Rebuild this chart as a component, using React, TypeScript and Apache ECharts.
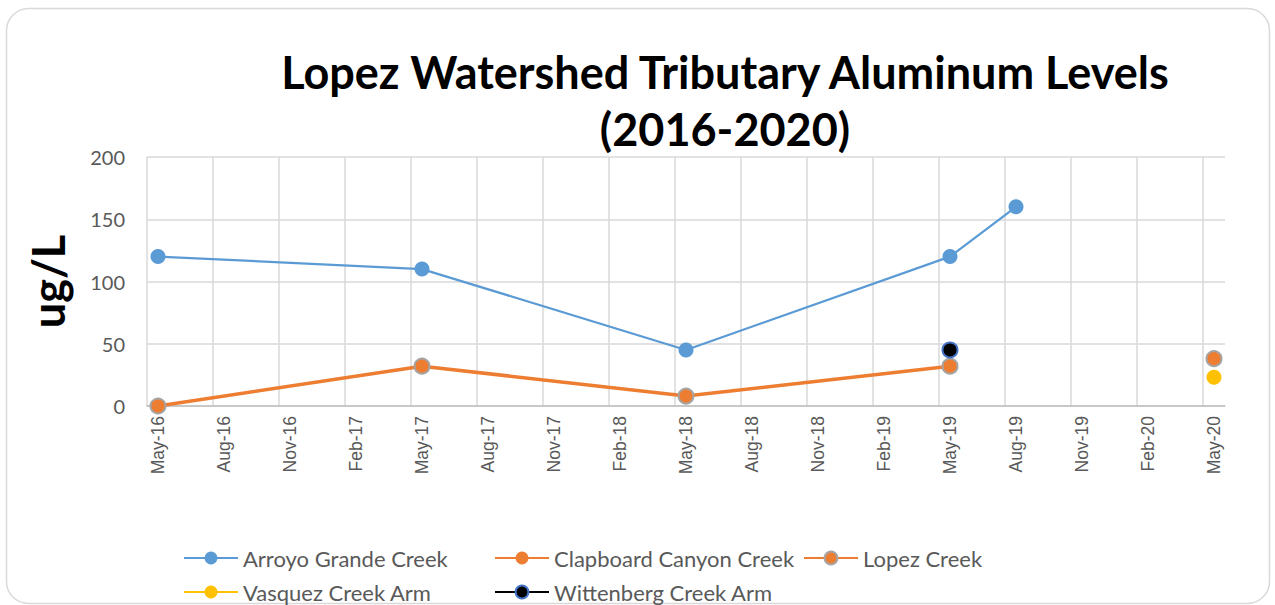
import React, { useEffect, useRef } from "react";
import * as echarts from "echarts";

// Monthly category slots of the date axis (May-16 .. May-20)
const monthNames = ["Jan", "Feb", "Mar", "Apr", "May", "Jun", "Jul", "Aug", "Sep", "Oct", "Nov", "Dec"];
const axisStart = { year: 2016, month: 4 }; // May 2016
const axisMonths = 49;
const categories: string[] = [];
for (let i = 0; i < axisMonths; i++) {
  const m = (axisStart.month + i) % 12;
  const y = axisStart.year + Math.floor((axisStart.month + i) / 12);
  categories.push(`${monthNames[m]}-${String(y).slice(2)}`);
}

// Sampling dates
const sampleDates = ["May-16", "May-17", "May-18", "May-19", "Aug-19", "May-20"];

// Series values (ug/L), null = not sampled
const arroyoGrande = [120, 110, 45, 120, 160, null];
const clapboardCanyon = [null, null, null, null, null, null];
const lopezCreek = [0, 32, 8, 32, null, 38];
const vasquezArm = [null, null, null, null, null, 23];
const wittenbergArm = [null, null, null, 45, null, null];

const yTicks = { min: 0, max: 200, interval: 50 };

function pairs(values: (number | null)[]) {
  const out: any[] = [];
  values.forEach((v, i) => {
    const idx = categories.indexOf(sampleDates[i]);
    out.push([idx, v === null ? null : v]);
  });
  return out;
}
function points(values: (number | null)[]) {
  return pairs(values).filter((p) => p[1] !== null);
}

export default function App() {
  const ref = useRef<HTMLDivElement>(null);
  useEffect(() => {
    if (!ref.current) return;
    const chart = echarts.init(ref.current, undefined, { renderer: "svg" });
    const font = "Lato";
    const grey = "#595959";
    const legendBase = {
      orient: "vertical",
      top: 547,
      height: 58,
      padding: 0,
      itemWidth: 54,
      itemHeight: 16,
      itemGap: 12,
      textStyle: { fontFamily: font, fontSize: 22, color: grey },
      selectedMode: false,
    };
    chart.setOption({
      animation: false,
      backgroundColor: "#ffffff",
      graphic: [
        {
          type: "rect",
          z: -10,
          shape: { x: 6.5, y: 8.5, width: 1263, height: 595, r: 22 },
          style: { fill: "#ffffff", stroke: "#D9D9D9", lineWidth: 1.5 },
        },
        {
          type: "text",
          x: 725,
          y: 43,
          style: {
            text: "Lopez Watershed Tributary Aluminum Levels\n(2016-2020)",
            font: `bold 45px ${font}`,
            fill: "#000000",
            textAlign: "center",
            lineHeight: 57,
          },
        },
      ],
      grid: { left: 147, right: 50, top: 157, bottom: 199, containLabel: false },
      legend: [
        { ...legendBase, left: 183, data: ["Arroyo Grande Creek", "Vasquez Creek Arm"] },
        { ...legendBase, left: 494, data: ["Clapboard Canyon Creek", "Wittenberg Creek Arm"] },
        { ...legendBase, left: 803, data: ["Lopez Creek"] },
      ],
      xAxis: {
        type: "category",
        data: categories,
        boundaryGap: true,
        axisLine: { show: true, onZero: false, lineStyle: { color: "#BFBFBF", width: 1.5 } },
        axisTick: { show: false },
        axisLabel: {
          interval: 2,
          rotate: 90,
          margin: 10,
          fontFamily: "Liberation Sans",
          fontSize: 17.5,
          color: grey,
        },
        splitLine: {
          show: true,
          interval: 2,
          showMaxLine: false,
          lineStyle: { color: "#D9D9D9", width: 1.5 },
        },
      },
      yAxis: {
        type: "value",
        min: yTicks.min,
        max: yTicks.max,
        interval: yTicks.interval,
        name: "ug/L",
        nameLocation: "middle",
        nameRotate: 90,
        nameGap: 77,
        nameTextStyle: { fontFamily: font, fontWeight: "bold", fontSize: 45, color: "#000000" },
        axisLine: { show: false },
        axisTick: { show: false },
        axisLabel: { fontFamily: font, fontSize: 20, color: grey, margin: 22 },
        splitLine: { show: true, lineStyle: { color: "#D9D9D9", width: 1.5 } },
      },
      series: [
        {
          name: "Arroyo Grande Creek",
          type: "line",
          data: pairs(arroyoGrande),
          symbol: "circle",
          symbolSize: 15,
          itemStyle: { color: "#5B9BD5" },
          lineStyle: { color: "#5B9BD5", width: 2.25 },
          z: 3,
        },
        {
          name: "Clapboard Canyon Creek",
          type: "line",
          data: pairs(clapboardCanyon),
          symbol: "circle",
          symbolSize: 15,
          itemStyle: { color: "#ED7D31" },
          lineStyle: { color: "#ED7D31", width: 3.5 },
        },
        {
          name: "Lopez Creek",
          type: "line",
          data: pairs(lopezCreek),
          symbol: "circle",
          symbolSize: 15,
          itemStyle: { color: "#ED7D31", borderColor: "#A5A5A5", borderWidth: 2 },
          lineStyle: { color: "#ED7D31", width: 3.5 },
          z: 2,
        },
        {
          name: "Vasquez Creek Arm",
          type: "line",
          data: points(vasquezArm),
          symbol: "circle",
          symbolSize: 15,
          itemStyle: { color: "#FFC000" },
          lineStyle: { color: "#FFC000", width: 3.5 },
          z: 4,
        },
        {
          name: "Wittenberg Creek Arm",
          type: "line",
          data: points(wittenbergArm),
          symbol: "circle",
          symbolSize: 15,
          itemStyle: { color: "#000000", borderColor: "#4472C4", borderWidth: 2 },
          lineStyle: { color: "#000000", width: 3.5 },
          z: 4,
        },
      ],
    });
    return () => chart.dispose();
  }, []);
  return (
    <div
      ref={ref}
      style={{ position: "absolute", left: 0, top: 0, width: 1275, height: 605 }}
    />
  );
}
